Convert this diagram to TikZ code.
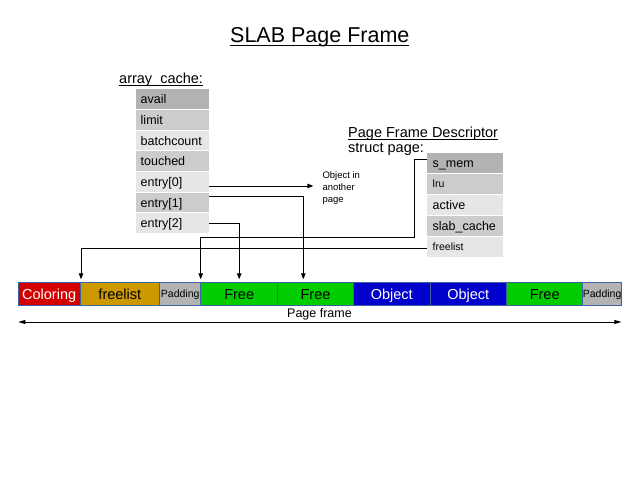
\documentclass[tikz,border=0pt]{standalone}
\usepackage{fontspec}
\setmainfont{Liberation Sans}
\usetikzlibrary{arrows.meta,calc}
\definecolor{gA}{HTML}{B3B3B3}
\definecolor{gB}{HTML}{CCCCCC}
\definecolor{gC}{HTML}{E6E6E6}
\definecolor{cred}{HTML}{D40000}
\definecolor{cgold}{HTML}{CC9900}
\definecolor{cgray}{HTML}{B3B3B3}
\definecolor{cgreen}{HTML}{00CC00}
\definecolor{cblue}{HTML}{0000CC}
\definecolor{cellb}{HTML}{3A63A0}
\newsavebox\ulsave
\newcommand\ulbox[3]{\sbox\ulsave{#3}\rlap{\rule[-#1]{\wd\ulsave}{#2}}\usebox\ulsave}
\begin{document}
\begin{tikzpicture}[x=1pt,y=-1pt,
  arr/.style={draw=black, line width=0.9pt, -{Triangle[length=6pt,width=4.5pt]}},
  intostrip/.style={arr, shorten >=3pt},
  darr/.style={draw=black, line width=0.9pt, {Triangle[length=7pt,width=4pt]}-{Triangle[length=7pt,width=4pt]}},
  tabrow/.style={anchor=north west, draw=white, line width=1pt, outer sep=0pt,
    inner ysep=0pt, inner xsep=5.7pt, minimum height=20.64pt, text width=62.6pt,
    align=left, font=\fontsize{12.5}{14}\selectfont, text height=9pt, text depth=0pt},
  descrow/.style={anchor=north west, draw=white, line width=1pt, outer sep=0pt,
    inner ysep=0pt, inner xsep=6pt, minimum height=20.9pt, text width=64.6pt,
    align=left, font=\fontsize{12.5}{14}\selectfont, text height=9pt, text depth=0pt},
  smalltxt/.style={font=\fontsize{10.5}{12}\selectfont, text height=7.6pt},
  cell/.style={draw=cellb, line width=0.8pt, minimum height=23pt, inner sep=0pt,
    outer sep=0pt, font=\fontsize{14.5}{16}\selectfont, text height=10.4pt, text depth=0pt},
  padcell/.style={cell, fill=cgray, font=\fontsize{10.5}{12}\selectfont, text height=7.6pt},
  heading/.style={anchor=base west, inner sep=0pt, font=\fontsize{14.5}{17}\selectfont}
]
\path[fill=white] (0,0) rectangle (644,481);
\useasboundingbox (0,0) rectangle (644,481);

% title
\node[anchor=base west, inner sep=0pt, font=\fontsize{21.5}{24}\selectfont] (title) at (230,42.3)
  {\ulbox{4.2pt}{1.4pt}{SLAB Page Frame}};

% array_cache
\node[heading] (ach) at (119,84) {\ulbox{2.2pt}{1pt}{array\_cache:}};
\node[tabrow, fill=gA] (avail) at (135,89) {avail};
\node[tabrow, fill=gB] (limit) at (135,109.64) {limit};
\node[tabrow, fill=gC] (batch) at (135,130.28) {batchcount};
\node[tabrow, fill=gB] (touch) at (135,150.92) {touched};
\node[tabrow, fill=gC] (e0) at (135,171.56) {entry[0]};
\node[tabrow, fill=gB] (e1) at (135,192.2) {entry[1]};
\node[tabrow, fill=gC] (e2) at (135,212.84) {entry[2]};

% page frame descriptor
\node[heading] (pfd) at (348,137.3) {\ulbox{2.4pt}{1pt}{Page Frame Descriptor}};
\node[heading] (sp) at (348,152.5) {struct page:};
\node[descrow, fill=gA] (smem) at (426.7,152.7) {s\_mem};
\node[descrow, fill=gB, smalltxt] (lru) at (426.7,173.6) {lru};
\node[descrow, fill=gC] (active) at (426.7,194.5) {active};
\node[descrow, fill=gB] (slab) at (426.7,215.4) {slab\_cache};
\node[descrow, fill=gC, smalltxt] (dfl) at (426.7,236.3) {freelist};

% object in another page
\node[anchor=north west, inner sep=0pt, align=left, font=\fontsize{9.5}{11.8}\selectfont] (obj) at (322.3,171.5)
  {Object in\\another\\page};

% page frame strip
\node[cell, fill=cred, text=white, minimum width=61.7pt] (col) at (49.15,293.8) {Coloring};
\node[cell, fill=cgold, minimum width=79.7pt] (cfl) at (119.85,293.8) {freelist};
\node[padcell, minimum width=41pt] (pad1) at (180.2,293.8) {Padding};
\node[cell, fill=cgreen, minimum width=77pt] (fr1) at (239.2,293.8) {Free};
\node[cell, fill=cgreen, minimum width=75.6pt] (fr2) at (315.5,293.8) {Free};
\node[cell, fill=cblue, text=white, minimum width=77pt] (ob1) at (391.8,293.8) {Object};
\node[cell, fill=cblue, text=white, minimum width=76pt] (ob2) at (468.3,293.8) {Object};
\node[cell, fill=cgreen, minimum width=76.7pt] (fr3) at (544.65,293.8) {Free};
\node[padcell, minimum width=38.3pt] (pad2) at (602.15,293.8) {Padding};

% page frame arrow
\coordinate (pl) at ([yshift=-16.7pt]col.south west);
\coordinate (pr) at ([yshift=-16.7pt]pad2.south east);
\draw[darr] (pl) -- (pr);
\node[anchor=base, inner sep=0pt, font=\fontsize{12.5}{14}\selectfont] (pf) at (319.5,317.3) {Page frame};

% connectors
\coordinate (e0o) at ([yshift=-4.1pt]e0.east);
\draw[arr, shorten >=9pt] (e0o) -- (e0o -| obj.west);
\draw[intostrip] ([yshift=5.8pt]e1.east) -| ([xshift=-12.2pt]fr2.north);
\draw[intostrip] (e2.east) -| (fr1.north);
\coordinate (k1) at (414.3,237.8);
\draw[intostrip] ([yshift=4.2pt]smem.west) -| (k1) -| (fr1.north west);
\draw[intostrip] ([yshift=-1.5pt]dfl.west) -| ([xshift=1pt]cfl.north west);
\end{tikzpicture}
\end{document}
